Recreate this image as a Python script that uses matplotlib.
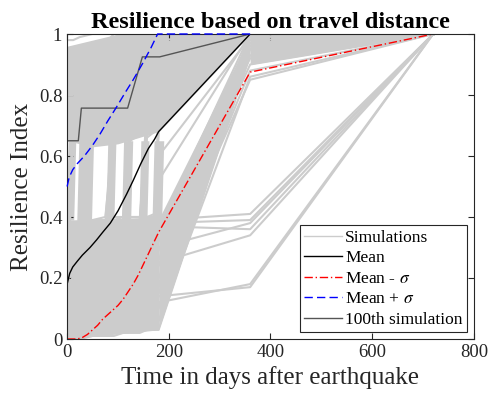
import matplotlib
matplotlib.use('Agg')
import matplotlib.pyplot as plt

plt.rcParams['font.family'] = ['Liberation Serif', 'DejaVu Serif']
plt.rcParams['mathtext.fontset'] = 'stix'

# common time grid (days) for the simulation curves
sim_days = [0, 12, 25, 50, 75, 92, 110, 124, 143, 157, 172, 180, 360, 720]

# simulated resilience index curves
simulations = [
    # start high
    [0.98, 0.98, 0.99, 1.00, 1.00, 1.00, 1.00, 1.00, 1.00, 1.00, 1.00, 1.00, 1.00, 1.00],
    [0.95, 0.95, 0.95, 0.97, 0.97, 1.00, 1.00, 1.00, 1.00, 1.00, 1.00, 1.00, 1.00, 1.00],
    [0.92, 0.92, 0.93, 0.93, 0.95, 0.95, 0.96, 0.98, 1.00, 1.00, 1.00, 1.00, 1.00, 1.00],
    [0.89, 0.90, 0.90, 0.92, 0.92, 0.94, 0.94, 0.96, 0.97, 0.98, 1.00, 1.00, 1.00, 1.00],
    [0.86, 0.86, 0.88, 0.88, 0.90, 0.91, 0.93, 0.93, 0.95, 0.96, 0.97, 0.98, 1.00, 1.00],
    [0.83, 0.83, 0.84, 0.86, 0.86, 0.88, 0.90, 0.90, 0.92, 0.94, 0.95, 0.96, 1.00, 1.00],
    [0.80, 0.80, 0.82, 0.82, 0.84, 0.86, 0.87, 0.89, 0.90, 0.92, 0.93, 0.94, 1.00, 1.00],
    [0.77, 0.77, 0.78, 0.80, 0.81, 0.83, 0.85, 0.86, 0.88, 0.89, 0.91, 0.92, 1.00, 1.00],
    [0.74, 0.74, 0.76, 0.77, 0.79, 0.80, 0.82, 0.84, 0.85, 0.87, 0.89, 0.90, 1.00, 1.00],
    [0.71, 0.72, 0.73, 0.75, 0.76, 0.78, 0.79, 0.81, 0.83, 0.85, 0.86, 0.88, 1.00, 1.00],
    [0.68, 0.69, 0.70, 0.72, 0.74, 0.75, 0.77, 0.79, 0.81, 0.82, 0.84, 0.86, 1.00, 1.00],
    [0.66, 0.66, 0.68, 0.69, 0.71, 0.73, 0.75, 0.77, 0.78, 0.80, 0.82, 0.83, 1.00, 1.00],
    # start low, jump up before 180 days
    [0.30, 0.70, 0.72, 0.74, 0.76, 0.78, 0.80, 0.82, 0.84, 0.86, 0.88, 0.89, 1.00, 1.00],
    [0.15, 0.66, 0.68, 0.70, 0.71, 0.73, 0.75, 0.77, 0.79, 0.81, 0.83, 0.85, 1.00, 1.00],
    [0.05, 0.75, 0.76, 0.78, 0.80, 0.81, 0.83, 0.85, 0.87, 0.89, 0.91, 0.93, 1.00, 1.00],
    [0.40, 0.68, 0.70, 0.72, 0.74, 0.76, 0.78, 0.80, 0.82, 0.84, 0.86, 0.88, 1.00, 1.00],
    [0.25, 0.27, 0.29, 0.68, 0.70, 0.71, 0.73, 0.75, 0.77, 0.79, 0.81, 0.82, 1.00, 1.00],
    [0.10, 0.12, 0.15, 0.72, 0.73, 0.75, 0.77, 0.78, 0.80, 0.82, 0.84, 0.86, 1.00, 1.00],
    [0.35, 0.36, 0.38, 0.80, 0.81, 0.83, 0.85, 0.86, 0.88, 0.90, 0.92, 0.94, 1.00, 1.00],
    [0.20, 0.21, 0.22, 0.66, 0.67, 0.69, 0.70, 0.72, 0.74, 0.76, 0.77, 0.79, 1.00, 1.00],
    [0.36, 0.37, 0.39, 0.66, 0.68, 0.70, 0.72, 0.74, 0.76, 0.78, 0.80, 0.82, 1.00, 1.00],
    [0.30, 0.31, 0.33, 0.76, 0.78, 0.80, 0.82, 0.84, 0.86, 0.88, 0.90, 0.92, 1.00, 1.00],
    [0.22, 0.24, 0.26, 0.30, 0.33, 0.70, 0.72, 0.74, 0.76, 0.78, 0.80, 0.81, 1.00, 1.00],
    [0.08, 0.10, 0.12, 0.16, 0.20, 0.67, 0.69, 0.70, 0.72, 0.74, 0.75, 0.77, 1.00, 1.00],
    [0.32, 0.33, 0.34, 0.36, 0.38, 0.76, 0.77, 0.79, 0.81, 0.83, 0.85, 0.87, 1.00, 1.00],
    [0.37, 0.38, 0.38, 0.39, 0.40, 0.66, 0.68, 0.70, 0.72, 0.74, 0.76, 0.78, 1.00, 1.00],
    [0.12, 0.14, 0.17, 0.21, 0.25, 0.28, 0.31, 0.69, 0.71, 0.73, 0.75, 0.76, 1.00, 1.00],
    [0.28, 0.29, 0.31, 0.33, 0.35, 0.36, 0.38, 0.74, 0.76, 0.78, 0.80, 0.81, 1.00, 1.00],
    [0.03, 0.05, 0.08, 0.12, 0.16, 0.19, 0.23, 0.66, 0.68, 0.70, 0.72, 0.73, 1.00, 1.00],
    [0.36, 0.37, 0.38, 0.39, 0.39, 0.40, 0.40, 0.65, 0.67, 0.69, 0.71, 0.73, 1.00, 1.00],
    [0.18, 0.20, 0.22, 0.25, 0.28, 0.30, 0.33, 0.35, 0.37, 0.70, 0.72, 0.73, 1.00, 1.00],
    [0.06, 0.08, 0.10, 0.14, 0.18, 0.21, 0.25, 0.28, 0.31, 0.67, 0.69, 0.70, 1.00, 1.00],
    [0.26, 0.28, 0.30, 0.32, 0.34, 0.35, 0.37, 0.38, 0.39, 0.76, 0.78, 0.79, 1.00, 1.00],
    [0.35, 0.36, 0.37, 0.38, 0.39, 0.39, 0.40, 0.40, 0.40, 0.66, 0.68, 0.70, 1.00, 1.00],
    [0.14, 0.16, 0.19, 0.23, 0.27, 0.30, 0.32, 0.34, 0.36, 0.37, 0.38, 0.70, 1.00, 1.00],
    [0.02, 0.04, 0.07, 0.11, 0.15, 0.18, 0.22, 0.25, 0.28, 0.31, 0.34, 0.68, 1.00, 1.00],
    [0.30, 0.31, 0.33, 0.35, 0.36, 0.37, 0.38, 0.39, 0.39, 0.40, 0.40, 0.78, 1.00, 1.00],
    [0.12, 0.13, 0.15, 0.18, 0.21, 0.24, 0.27, 0.30, 0.33, 0.35, 0.36, 0.52, 1.00, 1.00],
    [0.30, 0.31, 0.33, 0.35, 0.37, 0.38, 0.39, 0.40, 0.40, 0.40, 0.41, 0.60, 0.99, 1.00],
    # stay low until 180 days, almost recovered at 360
    [0.00, 0.00, 0.00, 0.01, 0.01, 0.01, 0.02, 0.02, 0.02, 0.03, 0.03, 0.03, 0.93, 1.00],
    [0.01, 0.01, 0.02, 0.03, 0.04, 0.05, 0.06, 0.07, 0.08, 0.09, 0.10, 0.10, 0.95, 1.00],
    [0.04, 0.05, 0.07, 0.09, 0.11, 0.13, 0.15, 0.16, 0.17, 0.18, 0.19, 0.20, 0.97, 1.00],
    [0.09, 0.10, 0.12, 0.15, 0.18, 0.20, 0.22, 0.24, 0.26, 0.27, 0.28, 0.29, 0.99, 1.00],
    [0.16, 0.18, 0.20, 0.23, 0.26, 0.28, 0.30, 0.32, 0.33, 0.34, 0.35, 0.36, 1.00, 1.00],
    [0.02, 0.03, 0.04, 0.06, 0.08, 0.09, 0.11, 0.12, 0.13, 0.14, 0.15, 0.15, 0.88, 1.00],
    [0.06, 0.07, 0.09, 0.12, 0.14, 0.16, 0.18, 0.20, 0.21, 0.22, 0.23, 0.24, 0.90, 1.00],
    [0.12, 0.14, 0.16, 0.19, 0.22, 0.24, 0.26, 0.28, 0.29, 0.30, 0.31, 0.32, 0.92, 1.00],
    [0.00, 0.01, 0.01, 0.02, 0.03, 0.04, 0.04, 0.05, 0.05, 0.06, 0.06, 0.06, 0.86, 1.00],
    [0.20, 0.22, 0.24, 0.27, 0.30, 0.32, 0.34, 0.35, 0.36, 0.37, 0.38, 0.38, 0.98, 1.00],
    [0.03, 0.04, 0.05, 0.07, 0.09, 0.10, 0.12, 0.13, 0.14, 0.15, 0.16, 0.17, 1.00, 1.00],
    [0.08, 0.09, 0.11, 0.13, 0.15, 0.17, 0.19, 0.21, 0.22, 0.24, 0.25, 0.26, 0.96, 1.00],
    [0.05, 0.06, 0.07, 0.09, 0.11, 0.12, 0.13, 0.14, 0.15, 0.16, 0.17, 0.18, 0.85, 1.00],
    # still low at 360 days
    [0.10, 0.11, 0.12, 0.14, 0.16, 0.18, 0.20, 0.22, 0.24, 0.26, 0.28, 0.30, 0.38, 1.00],
    [0.22, 0.24, 0.26, 0.28, 0.30, 0.32, 0.34, 0.35, 0.36, 0.37, 0.38, 0.39, 0.41, 1.00],
    [0.18, 0.20, 0.22, 0.25, 0.28, 0.30, 0.32, 0.33, 0.34, 0.35, 0.36, 0.37, 0.36, 1.00],
    [0.05, 0.06, 0.08, 0.10, 0.12, 0.14, 0.16, 0.18, 0.20, 0.22, 0.24, 0.25, 0.34, 1.00],
    [0.02, 0.03, 0.04, 0.05, 0.06, 0.08, 0.09, 0.10, 0.11, 0.12, 0.13, 0.14, 0.17, 1.00],
    [0.01, 0.02, 0.03, 0.04, 0.05, 0.06, 0.07, 0.08, 0.09, 0.10, 0.11, 0.12, 0.18, 1.00],
    [0.25, 0.26, 0.28, 0.30, 0.31, 0.33, 0.34, 0.35, 0.36, 0.37, 0.38, 0.38, 0.39, 1.00],
]

# where the simulations are so many that they cover the area completely
low_days = [0, 180]
low_lo = [0.0, 0.03]
low_hi = [0.39, 0.40]
high_days = [0, 50, 100, 180, 360]
high_lo = [0.65, 0.63, 0.64, 0.68, 1.0]
high_hi = [0.96, 0.98, 1.0, 1.0, 1.0]
late_days = [180, 360]
late_lo = [0.03, 0.93]
late_hi = [0.38, 0.99]
final_days = [360, 720]
final_lo = [0.90, 1.0]
final_hi = [1.0, 1.0]
# bundles of steep rises between the two levels (days at the lower level)
rise_vals = [0.39, 0.65]
rise_start = [0, 21, 78, 109, 143, 169]
rise_end = [15, 50, 94, 127, 159, 188]

# mean curve
mean_days = [0, 5, 11, 20, 30, 45, 58, 70, 85, 100, 117, 130, 145, 160, 172, 180, 360, 720]
mean_vals = [0.18, 0.215, 0.236, 0.255, 0.275, 0.30, 0.325, 0.35, 0.38, 0.42, 0.475,
             0.52, 0.575, 0.625, 0.655, 0.68, 1.0, 1.0]

# mean - sigma
minus_days = [0, 20, 30, 40, 50, 60, 70, 80, 90, 100, 110, 120, 130, 140, 150, 160,
              170, 180, 360, 720]
minus_vals = [0, 0, 0.005, 0.015, 0.03, 0.045, 0.065, 0.08, 0.095, 0.11, 0.13, 0.155,
              0.18, 0.21, 0.245, 0.28, 0.315, 0.35, 0.875, 1.0]

# mean + sigma
plus_days = [0, 4, 11, 20, 34, 50, 64, 80, 97, 115, 130, 149, 165, 178, 360]
plus_vals = [0.50, 0.53, 0.555, 0.575, 0.60, 0.635, 0.67, 0.715, 0.76, 0.81, 0.85,
             0.905, 0.955, 1.0, 1.0]

# 100th simulation
sim100_days = [0, 22, 28, 119, 148, 182, 360, 720]
sim100_vals = [0.65, 0.65, 0.757, 0.757, 0.925, 0.925, 1.0, 1.0]

grey = '#cccccc'
fig = plt.figure(figsize=(4.9, 4.0), dpi=100)
ax = fig.add_axes([0.137, 0.1525, 0.83, 0.7625])

for d, lo, hi in [(low_days, low_lo, low_hi), (high_days, high_lo, high_hi),
                  (late_days, late_lo, late_hi), (final_days, final_lo, final_hi)]:
    ax.fill_between(d, lo, hi, color=grey, lw=0)
for a, b in zip(rise_start, rise_end):
    ax.fill_betweenx(rise_vals, [a - 2, a + 2], [b - 2, b + 2], color=grey, lw=0)

for i, s in enumerate(simulations):
    ax.plot(sim_days, s, color=grey, lw=1.5,
            label='Simulations' if i == 0 else None)

ax.plot(mean_days, mean_vals, color='k', lw=1.0, label='Mean')
ax.plot(minus_days, minus_vals, color='r', lw=1.0, dashes=(6, 2, 1, 2),
        label=r'Mean - $\sigma$')
ax.plot(plus_days, plus_vals, color='b', lw=1.0, dashes=(6, 3), zorder=3,
        clip_on=False, label=r'Mean + $\sigma$')
ax.plot(sim100_days, sim100_vals, color='#555555', lw=1.0, label='100th simulation')

ax.set_xlim(0, 800)
ax.set_ylim(0, 1)
ax.set_xticks([0, 200, 400, 600, 800])
ax.set_yticks([0, 0.2, 0.4, 0.6, 0.8, 1])
ax.set_yticklabels(['0', '0.2', '0.4', '0.6', '0.8', '1'])
ax.tick_params(direction='in', top=True, right=True, labelsize=13.5,
               colors='#262626', length=4)
for sp in ax.spines.values():
    sp.set_color('#262626')
    sp.set_linewidth(0.8)

ax.set_title('Resilience based on travel distance', fontsize=17.5,
             fontweight='bold', pad=4)
ax.set_xlabel('Time in days after earthquake', fontsize=18, color='#262626')
ax.set_ylabel('Resilience Index', fontsize=18, color='#262626')

leg = ax.legend(loc='lower right', fontsize=12.5, fancybox=False, framealpha=1,
                edgecolor='#262626', handlelength=2.2, handletextpad=0.15,
                labelspacing=0.25, borderpad=0.25, borderaxespad=0.4)
leg.get_frame().set_linewidth(0.8)
leg.get_lines()[0].set_linewidth(1.0)

fig.savefig('out.png', dpi=100)
